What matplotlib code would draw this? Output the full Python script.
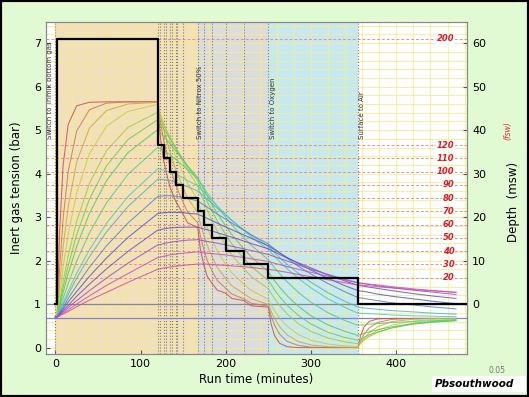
import numpy as np
import matplotlib
matplotlib.use('Agg')
import matplotlib.pyplot as plt
from matplotlib.patches import Rectangle
from matplotlib.ticker import MultipleLocator

times = [0, 2, 5, 9, 15, 25, 40, 60, 85, 120,
         123, 127, 134, 141, 150, 155, 167,
         170, 174, 178, 184, 190, 200, 207, 221, 230, 250,
         253, 257, 263, 272, 285, 300, 320, 340, 355,
         358, 362, 368, 378, 395, 420, 445, 470]

# inert gas tension (bar) of the 16 tissue compartments, fastest first
tensions = [
    [0.70, 0.70, 2.70, 4.18, 5.13, 5.56, 5.64, 5.65, 5.65, 5.65,
     4.86, 4.29, 3.71, 3.37, 3.06, 2.87, 2.76,
     2.27, 1.91, 1.64, 1.47, 1.32, 1.25, 1.13, 1.08, 0.96, 0.93,
     0.55, 0.28, 0.10, 0.02, 0.00, 0.00, 0.00, 0.00, 0.00,
     0.27, 0.47, 0.60, 0.66, 0.67, 0.67, 0.67, 0.67],
    [0.70, 0.70, 1.83, 2.95, 4.05, 4.98, 5.47, 5.62, 5.65, 5.65,
     5.21, 4.77, 4.18, 3.74, 3.33, 3.12, 2.87,
     2.57, 2.27, 2.01, 1.75, 1.54, 1.36, 1.23, 1.12, 1.02, 0.95,
     0.73, 0.52, 0.31, 0.14, 0.05, 0.01, 0.00, 0.00, 0.00,
     0.15, 0.30, 0.45, 0.58, 0.65, 0.67, 0.67, 0.67],
    [0.70, 0.70, 1.46, 2.29, 3.24, 4.27, 5.05, 5.45, 5.60, 5.64,
     5.34, 5.02, 4.52, 4.10, 3.66, 3.44, 3.10,
     2.86, 2.60, 2.36, 2.08, 1.84, 1.58, 1.42, 1.24, 1.12, 0.99,
     0.84, 0.67, 0.48, 0.29, 0.14, 0.06, 0.02, 0.01, 0.00,
     0.10, 0.21, 0.34, 0.48, 0.60, 0.65, 0.67, 0.67],
    [0.70, 0.70, 1.22, 1.84, 2.61, 3.56, 4.46, 5.09, 5.43, 5.59,
     5.39, 5.16, 4.77, 4.41, 4.00, 3.78, 3.40,
     3.20, 2.97, 2.75, 2.47, 2.22, 1.91, 1.72, 1.46, 1.31, 1.11,
     0.99, 0.85, 0.68, 0.49, 0.30, 0.17, 0.08, 0.04, 0.02,
     0.09, 0.17, 0.27, 0.40, 0.52, 0.61, 0.65, 0.66],
    [0.70, 0.70, 1.07, 1.51, 2.11, 2.91, 3.78, 4.53, 5.06, 5.41,
     5.28, 5.13, 4.86, 4.59, 4.26, 4.08, 3.72,
     3.56, 3.36, 3.17, 2.91, 2.67, 2.34, 2.13, 1.81, 1.63, 1.35,
     1.25, 1.13, 0.97, 0.77, 0.55, 0.37, 0.22, 0.13, 0.09,
     0.13, 0.18, 0.25, 0.35, 0.46, 0.56, 0.61, 0.64],
    [0.70, 0.70, 1.00, 1.38, 1.88, 2.60, 3.42, 4.18, 4.78, 5.24,
     5.15, 5.03, 4.82, 4.60, 4.32, 4.16, 3.84,
     3.70, 3.53, 3.36, 3.13, 2.91, 2.59, 2.38, 2.05, 1.86, 1.54,
     1.45, 1.33, 1.17, 0.97, 0.74, 0.54, 0.35, 0.23, 0.17,
     0.20, 0.24, 0.29, 0.36, 0.45, 0.54, 0.59, 0.62],
    [0.70, 0.70, 0.95, 1.26, 1.70, 2.33, 3.09, 3.84, 4.48, 5.01,
     4.94, 4.86, 4.70, 4.53, 4.31, 4.18, 3.91,
     3.79, 3.64, 3.49, 3.28, 3.08, 2.79, 2.60, 2.27, 2.08, 1.74,
     1.65, 1.54, 1.39, 1.19, 0.95, 0.73, 0.52, 0.37, 0.28,
     0.30, 0.33, 0.36, 0.41, 0.48, 0.55, 0.59, 0.62],
    [0.70, 0.70, 0.89, 1.13, 1.47, 1.99, 2.64, 3.33, 3.98, 4.60,
     4.57, 4.53, 4.44, 4.33, 4.18, 4.09, 3.89,
     3.80, 3.68, 3.56, 3.40, 3.24, 2.99, 2.82, 2.53, 2.35, 2.02,
     1.94, 1.84, 1.70, 1.51, 1.27, 1.04, 0.80, 0.62, 0.51,
     0.52, 0.52, 0.54, 0.55, 0.58, 0.60, 0.62, 0.64],
    [0.70, 0.70, 0.84, 1.03, 1.30, 1.71, 2.25, 2.86, 3.47, 4.11,
     4.10, 4.08, 4.04, 3.99, 3.90, 3.84, 3.72,
     3.66, 3.58, 3.49, 3.37, 3.25, 3.06, 2.93, 2.69, 2.54, 2.25,
     2.18, 2.10, 1.98, 1.81, 1.59, 1.37, 1.12, 0.92, 0.79,
     0.79, 0.78, 0.78, 0.77, 0.75, 0.73, 0.72, 0.71],
    [0.70, 0.70, 0.83, 0.99, 1.22, 1.60, 2.09, 2.66, 3.24, 3.87,
     3.87, 3.86, 3.84, 3.80, 3.74, 3.70, 3.60,
     3.55, 3.48, 3.41, 3.31, 3.20, 3.04, 2.92, 2.71, 2.58, 2.32,
     2.26, 2.18, 2.07, 1.91, 1.71, 1.50, 1.26, 1.06, 0.93,
     0.92, 0.91, 0.90, 0.88, 0.85, 0.82, 0.79, 0.77],
    [0.70, 0.70, 0.80, 0.93, 1.13, 1.43, 1.85, 2.34, 2.86, 3.47,
     3.48, 3.49, 3.49, 3.48, 3.45, 3.43, 3.37,
     3.33, 3.28, 3.23, 3.15, 3.07, 2.95, 2.86, 2.70, 2.59, 2.38,
     2.33, 2.27, 2.18, 2.05, 1.87, 1.69, 1.47, 1.28, 1.15,
     1.14, 1.13, 1.11, 1.08, 1.03, 0.98, 0.93, 0.89],
    [0.70, 0.70, 0.78, 0.89, 1.05, 1.29, 1.64, 2.06, 2.53, 3.08,
     3.09, 3.10, 3.11, 3.11, 3.10, 3.09, 3.07,
     3.04, 3.01, 2.97, 2.92, 2.86, 2.77, 2.71, 2.59, 2.51, 2.34,
     2.30, 2.25, 2.18, 2.07, 1.93, 1.78, 1.59, 1.42, 1.31,
     1.30, 1.29, 1.27, 1.23, 1.18, 1.12, 1.06, 1.01],
    [0.70, 0.70, 0.76, 0.85, 0.97, 1.18, 1.46, 1.81, 2.21, 2.70,
     2.71, 2.73, 2.75, 2.76, 2.77, 2.77, 2.77,
     2.75, 2.73, 2.71, 2.68, 2.64, 2.58, 2.54, 2.45, 2.39, 2.27,
     2.24, 2.20, 2.14, 2.06, 1.95, 1.83, 1.67, 1.53, 1.43,
     1.42, 1.41, 1.39, 1.36, 1.31, 1.24, 1.18, 1.13],
    [0.70, 0.70, 0.75, 0.82, 0.92, 1.08, 1.31, 1.60, 1.94, 2.36,
     2.37, 2.39, 2.42, 2.44, 2.46, 2.47, 2.48,
     2.47, 2.46, 2.44, 2.42, 2.40, 2.36, 2.33, 2.27, 2.23, 2.14,
     2.12, 2.09, 2.05, 1.99, 1.90, 1.80, 1.68, 1.57, 1.49,
     1.48, 1.47, 1.45, 1.42, 1.38, 1.32, 1.27, 1.22],
    [0.70, 0.70, 0.74, 0.79, 0.87, 1.00, 1.19, 1.43, 1.70, 2.07,
     2.08, 2.10, 2.13, 2.15, 2.17, 2.18, 2.20,
     2.19, 2.18, 2.17, 2.16, 2.15, 2.13, 2.11, 2.07, 2.04, 1.98,
     1.96, 1.94, 1.91, 1.86, 1.80, 1.73, 1.64, 1.55, 1.49,
     1.48, 1.47, 1.46, 1.44, 1.40, 1.35, 1.31, 1.27],
    [0.70, 0.70, 0.73, 0.77, 0.83, 0.94, 1.09, 1.27, 1.50, 1.80,
     1.81, 1.83, 1.85, 1.87, 1.89, 1.90, 1.92,
     1.92, 1.92, 1.92, 1.91, 1.90, 1.89, 1.88, 1.86, 1.84, 1.80,
     1.79, 1.78, 1.76, 1.73, 1.68, 1.63, 1.56, 1.49, 1.44,
     1.44, 1.43, 1.42, 1.40, 1.37, 1.33, 1.30, 1.27],
]

# dive profile: time each depth starts (min) and depth (fsw)
profile_t = [0, 2, 120, 127, 134, 141, 150, 167, 174, 184, 200, 221, 250, 355, 483]
profile_fsw = [0, 200, 120, 110, 100, 90, 80, 70, 60, 50, 40, 30, 20, 0, 0]

# reference depths marked in fsw
fsw_marks = [200, 120, 110, 100, 90, 80, 70, 60, 50, 40, 30, 20]

# gas switches
switch_t = [0, 167, 250, 355]
switch_text = ['Switch to Trimix bottom gas', 'Switch to Nitrox 50%',
               'Switch to Oxygen', 'Surface to Air']
switch_text_x = [-6, 169.5, 255, 359.5]
gas_spans = [(0, 167), (167, 250), (250, 355)]
gas_colors = ['#f2e0bc', '#dcdcdc', '#c6e8ee']

# times of stop changes (dotted lines)
stop_t = [120, 123, 127, 130, 134, 137, 141, 143, 150, 174, 184, 200, 221]

surface_bar = 1.0
air_inert_bar = 0.69

FSW_TO_M = 0.3048

ylo, yhi = -0.15, 7.48

fig = plt.figure(figsize=(5.29, 3.97), dpi=100)
fig.patch.set_facecolor('#e2fad4')
ax = fig.add_axes([0.087, 0.108, 0.796, 0.836])
ax.set_facecolor('white')

for (a, b), c in zip(gas_spans, gas_colors):
    ax.axvspan(a, b, color=c, lw=0, zorder=0)

ax.set_axisbelow(True)
ax.xaxis.set_major_locator(MultipleLocator(100))
ax.xaxis.set_minor_locator(MultipleLocator(20))
ax.yaxis.set_major_locator(MultipleLocator(1))
ax.yaxis.set_minor_locator(MultipleLocator(0.2))
ax.grid(which='both', color='#f4ec90', lw=0.6)

# red dashed fsw reference depths
for f in fsw_marks:
    p = surface_bar + f * FSW_TO_M / 10
    ax.axhline(p, color='#e89090', lw=0.7, dashes=(3, 2), zorder=1)
    ax.text(468, p, str(f), color='#e01818', fontsize=6, fontweight='bold',
            style='italic', ha='right', va='center', zorder=6,
            bbox=dict(fc='white', ec='none', pad=0.4))

# dotted stop / switch lines
for t in stop_t + switch_t:
    ax.axvline(t, color='#808080', ls=':', lw=0.8, zorder=1)

ax.axhline(surface_bar, color='#888888', lw=0.9, zorder=2)
ax.axhline(air_inert_bar, color='#8080d8', lw=0.9, zorder=2)

colors = plt.cm.hsv(np.linspace(0, 0.9, len(tensions)))
for row, c in zip(tensions, colors):
    col = tuple(0.5 * c[k] + 0.3 for k in range(3))
    ax.plot(times, row, color=col, lw=0.75, alpha=0.85, zorder=3)

for x, s in zip(switch_text_x, switch_text):
    ax.text(x, 4.8, s, rotation=90, fontsize=5, color='#333333',
            ha='center', va='bottom', zorder=6)

ax.set_xlim(-11, 483)
ax.set_ylim(ylo, yhi)
ax.tick_params(which='major', direction='in', length=3, labelsize=8, color='#555555')
ax.tick_params(which='minor', length=0)
ax.set_xlabel('Run time (minutes)', fontsize=8.5, labelpad=3)
ax.set_ylabel('Inert gas tension (bar)', fontsize=8.5, labelpad=8)
for s in ax.spines.values():
    s.set_color('#888888')

ax2 = ax.twinx()
ax2.plot(profile_t, [f * FSW_TO_M for f in profile_fsw], drawstyle='steps-post',
         color='black', lw=1.6, zorder=5)
ax2.set_ylim((ylo - surface_bar) * 10, (yhi - surface_bar) * 10)
ax2.set_yticks([0, 10, 20, 30, 40, 50, 60])
ax2.tick_params(direction='in', length=3, labelsize=8, color='#555555')
ax2.set_ylabel('Depth  (msw)', fontsize=8.5)
ax2.yaxis.set_label_coords(1.095, 0.46)
for s in ax2.spines.values():
    s.set_color('#888888')

fig.text(0.96, 0.67, '(fsw)', rotation=90, fontsize=5.5, color='#e03030',
         style='italic', ha='center', va='center')

# credit box
fig.text(0.94, 0.055, '0.05', fontsize=5.5, color='#777777', ha='center', va='bottom')
fig.patches.append(Rectangle((0.817, 0.012), 0.178, 0.042, transform=fig.transFigure,
                             fc='white', ec='none', zorder=5))
fig.text(0.822, 0.033, 'Pbsouthwood', fontsize=7.5, fontweight='bold', style='italic',
         ha='left', va='center', zorder=6)

fig.patches.append(Rectangle((0, 0), 1, 1, transform=fig.transFigure, fill=False,
                             ec='black', lw=3, zorder=10))

fig.savefig('out.png', dpi=100, facecolor=fig.get_facecolor())
